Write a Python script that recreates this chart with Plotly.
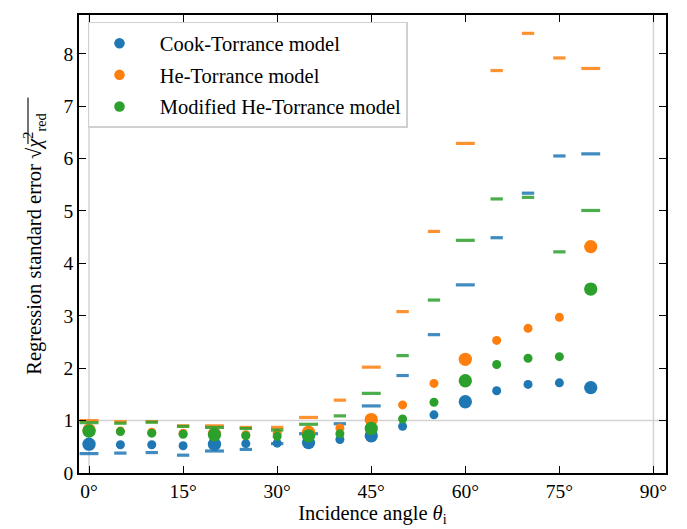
import plotly.graph_objects as go

# Incidence angles (degrees)
angles = [0, 5, 10, 15, 20, 25, 30, 35, 40, 45, 50, 55, 60, 65, 70, 75, 80]
# Angles measured with the larger sample set (drawn with larger marks)
large_angles = [0, 20, 35, 45, 60, 80]

# Regression standard error, fitted per angle (dots)
cook_fit = [0.55, 0.54, 0.54, 0.52, 0.55, 0.56, 0.57, 0.58, 0.64, 0.71, 0.89,
            1.11, 1.36, 1.57, 1.69, 1.72, 1.63]
he_fit = [0.82, 0.80, 0.78, 0.76, 0.75, 0.73, 0.76, 0.78, 0.86, 1.02, 1.30,
          1.71, 2.17, 2.53, 2.76, 2.97, 4.32]
mod_fit = [0.80, 0.79, 0.76, 0.74, 0.73, 0.71, 0.70, 0.71, 0.75, 0.85, 1.03,
           1.35, 1.76, 2.07, 2.19, 2.22, 3.51]

# Regression standard error with global parameters (dashes)
cook_global = [0.37, 0.38, 0.39, 0.34, 0.42, 0.45, 0.56, 0.75, 0.94, 1.28, 1.86,
               2.64, 3.59, 4.49, 5.34, 6.05, 6.09]
he_global = [1.00, 0.98, 0.98, 0.90, 0.90, 0.87, 0.87, 1.06, 1.39, 2.02, 3.08,
             4.61, 6.29, 7.68, 8.39, 7.92, 7.72]
mod_global = [0.96, 0.95, 0.97, 0.89, 0.87, 0.85, 0.82, 0.93, 1.09, 1.52, 2.24,
              3.30, 4.44, 5.23, 5.26, 4.22, 5.01]

model_names = ["Cook-Torrance model", "He-Torrance model", "Modified He-Torrance model"]
colors = ["#1f77b4", "#ff7f0e", "#2ca02c"]

x_ticks = [0, 15, 30, 45, 60, 75, 90]
x_ticklabels = [f"{t}°" for t in x_ticks]
y_ticks = [0, 1, 2, 3, 4, 5, 6, 7, 8]

FONT = "Liberation Serif"
dot_sizes = [13.3 if a in large_angles else 9 for a in angles]
dash_sizes = [13.5 if a in large_angles else 8.8 for a in angles]

fig = go.Figure()

for name, color, fit, glob in zip(model_names, colors,
                                  [cook_fit, he_fit, mod_fit],
                                  [cook_global, he_global, mod_global]):
    fig.add_trace(go.Scatter(
        x=angles, y=glob, mode="markers", showlegend=False, hoverinfo="skip",
        legendgroup=name,
        marker=dict(symbol="line-ew", size=dash_sizes, color=color,
                    opacity=0.85, line=dict(color=color, width=3.2)),
    ))
    fig.add_trace(go.Scatter(
        x=angles, y=fit, mode="markers", name="\u00a0\u00a0" + name,
        legendgroup=name,
        marker=dict(symbol="circle", size=dot_sizes, color=color, opacity=1,
                    line=dict(width=0)),
    ))

# Reference lines at 0°, 90° and unit error
ref = dict(color="#d3d3d3", width=1.5)
fig.add_shape(type="line", xref="x", yref="paper", x0=0, x1=0, y0=0, y1=1,
              line=ref, layer="below")
fig.add_shape(type="line", xref="x", yref="paper", x0=90, x1=90, y0=0, y1=1,
              line=ref, layer="below")
fig.add_shape(type="line", xref="paper", yref="y", x0=0, x1=1, y0=1, y1=1,
              line=ref, layer="below")

# Vinculum of the square root in the y-axis title (paper coordinates)
fig.add_shape(type="line", xref="paper", yref="paper",
              x0=-0.0869, x1=-0.0869, y0=0.7185, y1=0.8200,
              line=dict(color="black", width=1.1))

axis_common = dict(
    showgrid=False, zeroline=False, showline=True, linecolor="black",
    linewidth=1.6, mirror="ticks", ticks="inside", ticklen=7, tickwidth=1.3,
    tickcolor="black", tickfont=dict(family=FONT, size=19.5, color="black"),
)

fig.update_layout(
    width=687, height=529,
    margin=dict(l=79, r=21, t=15, b=53),
    paper_bgcolor="white", plot_bgcolor="white",
    font=dict(family=FONT, size=20.5, color="black"),
    xaxis=dict(
        range=[-1.6, 92.0], tickmode="array", tickvals=x_ticks,
        ticktext=x_ticklabels,
        title=dict(text="Incidence angle <i>θ</i><sub>i</sub>",
                   font=dict(family=FONT, size=20.5), standoff=0),
        **axis_common,
    ),
    yaxis=dict(
        range=[0, 8.74], tickmode="array", tickvals=y_ticks,
        title=dict(text="Regression standard error √<i>χ</i><sup>2</sup><sub>red</sub>",
                   font=dict(family=FONT, size=20.5), standoff=16),
        **axis_common,
    ),
    legend=dict(
        x=0.0153, y=0.985, xanchor="left", yanchor="top",
        bgcolor="rgba(255,255,255,0.8)", bordercolor="#d0d0d0", borderwidth=1.5,
        font=dict(family=FONT, size=20.5), itemwidth=50, tracegroupgap=2,
    ),
)

fig.write_html("out.html")
